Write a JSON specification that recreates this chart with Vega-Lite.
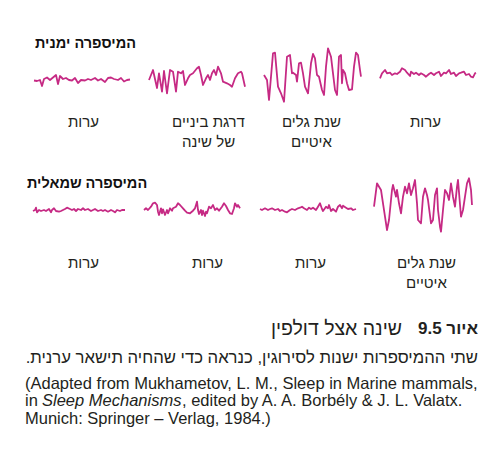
{
  "$schema": "https://vega.github.io/schema/vega-lite/v6.json",
  "padding": {"left": 25, "top": 35, "right": 0, "bottom": 0},
  "background": "white",
  "config": {
    "view": {"stroke": null},
    "title": {"font": "Liberation Sans", "fontSize": 15, "fontWeight": "normal", "color": "#231f20", "lineHeight": 20},
    "text": {"font": "Liberation Sans", "color": "#231f20"}
  },
  "datasets": {
    "a1": [{"t":3,"v":-3.5},{"t":6,"v":-4},{"t":9,"v":-3},{"t":11,"v":-9},{"t":13,"v":-2},{"t":16,"v":-0.5},{"t":19,"v":-3},{"t":22,"v":-0.5},{"t":25,"v":2},{"t":27,"v":-7},{"t":29,"v":1},{"t":32,"v":-2},{"t":35,"v":-1},{"t":38,"v":-3},{"t":41,"v":-3.5},{"t":44,"v":-1},{"t":47,"v":-6},{"t":50,"v":-3},{"t":54,"v":-3.5},{"t":57,"v":-2},{"t":60,"v":-3},{"t":64,"v":-1},{"t":67,"v":-3.5},{"t":70,"v":-2},{"t":74,"v":-5},{"t":77,"v":-1},{"t":80,"v":-0.5},{"t":83,"v":-2},{"t":87,"v":-3},{"t":90,"v":-1},{"t":93,"v":-4.5},{"t":96,"v":-3},{"t":99,"v":-2.5}],
    "a2": [{"t":3,"v":-3},{"t":7,"v":7},{"t":11,"v":-11},{"t":13,"v":3.7},{"t":16,"v":-14.7},{"t":18,"v":6},{"t":21,"v":-16.3},{"t":24,"v":7},{"t":27,"v":5.3},{"t":30,"v":-14.7},{"t":32,"v":5.3},{"t":35,"v":3.7},{"t":37,"v":6},{"t":39,"v":-8},{"t":42,"v":-1.3},{"t":44,"v":2},{"t":47,"v":3.7},{"t":51,"v":8.7},{"t":53,"v":10.3},{"t":55,"v":2},{"t":57,"v":-8},{"t":60,"v":-1.3},{"t":62,"v":2},{"t":64,"v":-3},{"t":66,"v":3.7},{"t":68,"v":7},{"t":70,"v":2},{"t":72,"v":10.3},{"t":75,"v":3.7},{"t":77,"v":-4.7},{"t":81,"v":-6.3},{"t":84,"v":-8},{"t":86,"v":-9.7},{"t":89,"v":-1.3},{"t":92,"v":3.7},{"t":95,"v":5.3},{"t":96,"v":3.7},{"t":99,"v":-9.7}],
    "a3": [{"t":3,"v":2},{"t":6,"v":-3},{"t":8,"v":-23},{"t":12,"v":23.7},{"t":14,"v":24.3},{"t":17,"v":-9.7},{"t":20,"v":-16.3},{"t":23,"v":-24.7},{"t":26,"v":20.3},{"t":29,"v":22},{"t":31,"v":3.7},{"t":32,"v":4.3},{"t":35,"v":2},{"t":36,"v":-4.7},{"t":38,"v":13.7},{"t":40,"v":14.3},{"t":42,"v":3.7},{"t":44,"v":-9.7},{"t":47,"v":-16.3},{"t":50,"v":13.7},{"t":52,"v":23},{"t":54,"v":18.7},{"t":56,"v":2},{"t":58,"v":0.3},{"t":61,"v":-13},{"t":63,"v":-18},{"t":65,"v":10.3},{"t":67,"v":28.7},{"t":70,"v":20.3},{"t":72,"v":3.7},{"t":74,"v":-13},{"t":76,"v":-18},{"t":78,"v":20.3},{"t":80,"v":22},{"t":81,"v":-6.3},{"t":82,"v":7},{"t":84,"v":3.7},{"t":86,"v":-6.3},{"t":88,"v":-13},{"t":91,"v":-12.3},{"t":93,"v":10.3},{"t":95,"v":24.3},{"t":97,"v":22},{"t":99,"v":7},{"t":100,"v":0.3}],
    "a4": [{"t":4,"v":-1.3},{"t":6,"v":3.7},{"t":9,"v":7},{"t":11,"v":3.7},{"t":14,"v":4.3},{"t":16,"v":2},{"t":19,"v":3.7},{"t":21,"v":3},{"t":24,"v":5.3},{"t":26,"v":8.7},{"t":29,"v":7},{"t":31,"v":4.3},{"t":34,"v":1},{"t":35,"v":5.3},{"t":38,"v":3},{"t":40,"v":4.3},{"t":43,"v":2},{"t":45,"v":3.7},{"t":48,"v":2},{"t":50,"v":0.3},{"t":53,"v":3},{"t":55,"v":4.3},{"t":58,"v":2},{"t":60,"v":3.7},{"t":63,"v":5.3},{"t":65,"v":1},{"t":68,"v":4.3},{"t":70,"v":3.7},{"t":73,"v":7},{"t":75,"v":3},{"t":78,"v":4.3},{"t":80,"v":1},{"t":83,"v":3.7},{"t":85,"v":4.3},{"t":88,"v":5.3},{"t":90,"v":2},{"t":93,"v":3},{"t":95,"v":0.3},{"t":97,"v":-0.3},{"t":99,"v":3.7},{"t":100,"v":4.3}],
    "b1": [{"t":2,"v":-5},{"t":4,"v":-4},{"t":5,"v":-1.7},{"t":6,"v":-6.3},{"t":8,"v":-4},{"t":10,"v":-5},{"t":13,"v":-4},{"t":15,"v":-5},{"t":18,"v":-3},{"t":20,"v":-6.3},{"t":21,"v":-4},{"t":23,"v":-2.3},{"t":25,"v":-5},{"t":28,"v":-5.7},{"t":30,"v":-5},{"t":32,"v":-4},{"t":34,"v":-3},{"t":36,"v":-1.7},{"t":39,"v":-3},{"t":41,"v":-4},{"t":43,"v":-3},{"t":45,"v":-5},{"t":47,"v":-3},{"t":50,"v":-4},{"t":52,"v":-2.3},{"t":54,"v":-4},{"t":57,"v":-3},{"t":60,"v":-5},{"t":62,"v":-4},{"t":64,"v":-3},{"t":67,"v":-5},{"t":70,"v":-4},{"t":72,"v":-5},{"t":74,"v":-4},{"t":77,"v":-5.7},{"t":80,"v":-4},{"t":82,"v":-5},{"t":84,"v":-6.3},{"t":86,"v":-4},{"t":89,"v":-5},{"t":91,"v":-4},{"t":94,"v":-4}],
    "b2": [{"t":-2,"v":-4},{"t":0,"v":-2.3},{"t":2,"v":-4},{"t":5,"v":-0.7},{"t":7,"v":2.7},{"t":9,"v":3.3},{"t":11,"v":1},{"t":12,"v":-5.7},{"t":13,"v":-9},{"t":15,"v":-2.3},{"t":16,"v":-7.3},{"t":17,"v":-3.3},{"t":19,"v":-9},{"t":21,"v":-4},{"t":22,"v":-7.3},{"t":24,"v":-2.3},{"t":26,"v":-4.7},{"t":27,"v":-2.3},{"t":30,"v":-0.7},{"t":32,"v":2.7},{"t":34,"v":1},{"t":37,"v":-2.3},{"t":39,"v":-4.7},{"t":41,"v":-6.7},{"t":44,"v":-7.3},{"t":47,"v":-4.7},{"t":49,"v":-2.3},{"t":51,"v":4.3},{"t":52,"v":-4},{"t":53,"v":-8},{"t":55,"v":-4},{"t":56,"v":-9},{"t":57,"v":-4.7},{"t":59,"v":-10},{"t":60,"v":-5.7},{"t":61,"v":-7.3},{"t":63,"v":-0.7},{"t":65,"v":-2.3},{"t":67,"v":1},{"t":69,"v":-4},{"t":71,"v":-2.3},{"t":73,"v":-4.7},{"t":76,"v":-0.7},{"t":78,"v":2.7},{"t":80,"v":0},{"t":82,"v":-4},{"t":84,"v":-7.3},{"t":86,"v":-8},{"t":88,"v":-2.3},{"t":89,"v":2.7},{"t":91,"v":-0.7},{"t":92,"v":1},{"t":94,"v":-2.3}],
    "b3": [{"t":-1,"v":-3},{"t":1,"v":-4},{"t":4,"v":-2.3},{"t":7,"v":-4},{"t":9,"v":-3},{"t":11,"v":-2.3},{"t":14,"v":-4},{"t":17,"v":-3},{"t":19,"v":-5},{"t":21,"v":-4},{"t":24,"v":-5.7},{"t":26,"v":-6.3},{"t":29,"v":-4},{"t":31,"v":-3},{"t":34,"v":-4},{"t":37,"v":-2.3},{"t":39,"v":-1.7},{"t":41,"v":-0.7},{"t":43,"v":-2.3},{"t":46,"v":-4},{"t":48,"v":-1.7},{"t":50,"v":-3},{"t":52,"v":-1.7},{"t":55,"v":-4},{"t":57,"v":-0.7},{"t":59,"v":2.7},{"t":61,"v":-3},{"t":62,"v":-5},{"t":65,"v":-0.7},{"t":67,"v":-2.3},{"t":68,"v":1},{"t":70,"v":-5},{"t":72,"v":-3},{"t":75,"v":-5.7},{"t":77,"v":-0.7},{"t":79,"v":1},{"t":81,"v":-2.3},{"t":82,"v":0.3},{"t":85,"v":-1.7},{"t":87,"v":-3},{"t":90,"v":-2.3},{"t":92,"v":-4},{"t":95,"v":-3}],
    "b4": [{"t":-2,"v":-0.7},{"t":1,"v":22.7},{"t":2,"v":21},{"t":5,"v":16},{"t":7,"v":2.7},{"t":9,"v":-10.7},{"t":11,"v":-24},{"t":13,"v":-14},{"t":16,"v":16},{"t":17,"v":21},{"t":20,"v":9.3},{"t":21,"v":16},{"t":23,"v":2.7},{"t":25,"v":-7.3},{"t":27,"v":9.3},{"t":29,"v":19.3},{"t":31,"v":12.7},{"t":33,"v":22.7},{"t":35,"v":11},{"t":37,"v":17.7},{"t":39,"v":26},{"t":41,"v":2.7},{"t":42,"v":-14},{"t":45,"v":-17.3},{"t":47,"v":9.3},{"t":49,"v":17.7},{"t":51,"v":11},{"t":52,"v":6},{"t":55,"v":-17.3},{"t":57,"v":-14},{"t":59,"v":11},{"t":61,"v":17.7},{"t":62,"v":-4},{"t":64,"v":-20.7},{"t":65,"v":-25.7},{"t":67,"v":-4},{"t":69,"v":16},{"t":71,"v":12.7},{"t":73,"v":6},{"t":75,"v":22.7},{"t":77,"v":9.3},{"t":79,"v":-0.7},{"t":81,"v":19.3},{"t":82,"v":26},{"t":85,"v":-10.7},{"t":87,"v":-4},{"t":89,"v":9.3},{"t":91,"v":22.7},{"t":93,"v":27.7},{"t":95,"v":16},{"t":96,"v":1}]
  },
  "vconcat": [
    {
      "vconcat": [
        {
          "title": {"text": "המיספרה ימנית", "anchor": "start", "fontSize": 14.5, "fontWeight": "bold", "color": "#111111", "offset": -4, "dx": 7},
          "hconcat": [
            {"width": 103, "height": 60, "data": {"name": "a1"},
             "mark": {"type": "line", "color": "#c62a84", "strokeWidth": 1.8, "strokeJoin": "round"},
             "encoding": {"x": {"field": "t", "type": "quantitative", "scale": {"domain": [-3, 100], "nice": false, "zero": false}, "axis": null},
                          "y": {"field": "v", "type": "quantitative", "scale": {"domain": [-30, 30], "nice": false, "zero": false}, "axis": null}},
             "title": {"text": "ערות", "orient": "bottom", "offset": 8, "dx": 4}},
            {"width": 103, "height": 60, "data": {"name": "a2"},
             "mark": {"type": "line", "color": "#c62a84", "strokeWidth": 1.8, "strokeJoin": "round"},
             "encoding": {"x": {"field": "t", "type": "quantitative", "scale": {"domain": [-3, 100], "nice": false, "zero": false}, "axis": null},
                          "y": {"field": "v", "type": "quantitative", "scale": {"domain": [-30, 30], "nice": false, "zero": false}, "axis": null}},
             "title": {"text": ["דרגת ביניים", "של שינה"], "orient": "bottom", "offset": 8, "dx": 14}},
            {"width": 103, "height": 60, "data": {"name": "a3"},
             "mark": {"type": "line", "color": "#c62a84", "strokeWidth": 1.8, "strokeJoin": "round"},
             "encoding": {"x": {"field": "t", "type": "quantitative", "scale": {"domain": [-3, 100], "nice": false, "zero": false}, "axis": null},
                          "y": {"field": "v", "type": "quantitative", "scale": {"domain": [-30, 30], "nice": false, "zero": false}, "axis": null}},
             "title": {"text": ["שנת גלים", "איטיים"], "orient": "bottom", "offset": 8, "dx": 2}},
            {"width": 103, "height": 60, "data": {"name": "a4"},
             "mark": {"type": "line", "color": "#c62a84", "strokeWidth": 1.8, "strokeJoin": "round"},
             "encoding": {"x": {"field": "t", "type": "quantitative", "scale": {"domain": [-3, 100], "nice": false, "zero": false}, "axis": null},
                          "y": {"field": "v", "type": "quantitative", "scale": {"domain": [-30, 30], "nice": false, "zero": false}, "axis": null}},
             "title": {"text": "ערות", "orient": "bottom", "offset": 8, "dx": 1}}
          ],
          "spacing": 12,
          "bounds": "flush"
        },
        {
          "title": {"text": "המיספרה שמאלית", "anchor": "start", "fontSize": 14.5, "fontWeight": "bold", "color": "#111111", "offset": -16, "dx": -1},
          "hconcat": [
            {"width": 103, "height": 62, "data": {"name": "b1"},
             "mark": {"type": "line", "color": "#c62a84", "strokeWidth": 1.8, "strokeJoin": "round"},
             "encoding": {"x": {"field": "t", "type": "quantitative", "scale": {"domain": [-3, 100], "nice": false, "zero": false}, "axis": null},
                          "y": {"field": "v", "type": "quantitative", "scale": {"domain": [-31, 31], "nice": false, "zero": false}, "axis": null}},
             "title": {"text": "ערות", "orient": "bottom", "offset": 19, "dx": 4}},
            {"width": 103, "height": 62, "data": {"name": "b2"},
             "mark": {"type": "line", "color": "#c62a84", "strokeWidth": 1.8, "strokeJoin": "round"},
             "encoding": {"x": {"field": "t", "type": "quantitative", "scale": {"domain": [-3, 100], "nice": false, "zero": false}, "axis": null},
                          "y": {"field": "v", "type": "quantitative", "scale": {"domain": [-31, 31], "nice": false, "zero": false}, "axis": null}},
             "title": {"text": "ערות", "orient": "bottom", "offset": 19, "dx": 13}},
            {"width": 103, "height": 62, "data": {"name": "b3"},
             "mark": {"type": "line", "color": "#c62a84", "strokeWidth": 1.8, "strokeJoin": "round"},
             "encoding": {"x": {"field": "t", "type": "quantitative", "scale": {"domain": [-3, 100], "nice": false, "zero": false}, "axis": null},
                          "y": {"field": "v", "type": "quantitative", "scale": {"domain": [-31, 31], "nice": false, "zero": false}, "axis": null}},
             "title": {"text": "ערות", "orient": "bottom", "offset": 19, "dx": 1}},
            {"width": 103, "height": 62, "data": {"name": "b4"},
             "mark": {"type": "line", "color": "#c62a84", "strokeWidth": 1.8, "strokeJoin": "round"},
             "encoding": {"x": {"field": "t", "type": "quantitative", "scale": {"domain": [-3, 100], "nice": false, "zero": false}, "axis": null},
                          "y": {"field": "v", "type": "quantitative", "scale": {"domain": [-31, 31], "nice": false, "zero": false}, "axis": null}},
             "title": {"text": ["שנת גלים", "איטיים"], "orient": "bottom", "offset": 19, "dx": 2}}
          ],
          "spacing": 12,
          "bounds": "flush"
        }
      ],
      "spacing": 25
    },
    {
      "width": 450,
      "height": 87.5,
      "layer": [
        {"data": {"values": [{"line": 1, "text": "איור 9.5"}]},
         "mark": {"type": "text", "align": "right", "baseline": "middle", "fontSize": 17, "fontWeight": "bold", "dy": -20},
         "encoding": {"x": {"datum": 1, "type": "quantitative", "scale": {"domain": [0, 1], "nice": false, "zero": false}, "axis": null},
                      "y": {"field": "line", "type": "ordinal", "scale": {"type": "band", "domain": [1, 2, 3, 4, 5], "paddingInner": 0, "paddingOuter": 0}, "axis": null},
                      "text": {"field": "text"}}},
        {"data": {"values": [{"line": 1, "text": "שינה אצל דולפין"}]},
         "mark": {"type": "text", "align": "right", "baseline": "middle", "fontSize": 19.5, "dy": -20, "dx": -76},
         "encoding": {"x": {"datum": 1, "type": "quantitative"}, "y": {"field": "line", "type": "ordinal"}, "text": {"field": "text"}}},
        {"data": {"values": [{"line": 2, "text": "שתי ההמיספרות ישנות לסירוגין, כנראה כדי שהחיה תישאר ערנית.\u200f"}]},
         "mark": {"type": "text", "align": "right", "baseline": "middle", "fontSize": 16.7, "dy": -8.5},
         "encoding": {"x": {"datum": 1, "type": "quantitative"}, "y": {"field": "line", "type": "ordinal"}, "text": {"field": "text"}}},
        {"data": {"values": [{"line": 3, "text": "(Adapted from Mukhametov, L. M., Sleep in Marine mammals,"}, {"line": 4, "text": "in"}, {"line": 5, "text": "Munich: Springer – Verlag, 1984.)"}]},
         "mark": {"type": "text", "align": "left", "baseline": "middle", "fontSize": 16.5, "dx": -3},
         "encoding": {"x": {"datum": 0, "type": "quantitative"}, "y": {"field": "line", "type": "ordinal"}, "text": {"field": "text"}}},
        {"data": {"values": [{"line": 4, "text": "Sleep Mechanisms"}]},
         "mark": {"type": "text", "align": "left", "baseline": "middle", "fontSize": 16.5, "fontStyle": "italic", "dx": 14},
         "encoding": {"x": {"datum": 0, "type": "quantitative"}, "y": {"field": "line", "type": "ordinal"}, "text": {"field": "text"}}},
        {"data": {"values": [{"line": 4, "text": ", edited by A. A. Borbély & J. L. Valatx."}]},
         "mark": {"type": "text", "align": "left", "baseline": "middle", "fontSize": 16.5, "dx": 154},
         "encoding": {"x": {"datum": 0, "type": "quantitative"}, "y": {"field": "line", "type": "ordinal"}, "text": {"field": "text"}}}
      ]
    }
  ],
  "spacing": 27
}
